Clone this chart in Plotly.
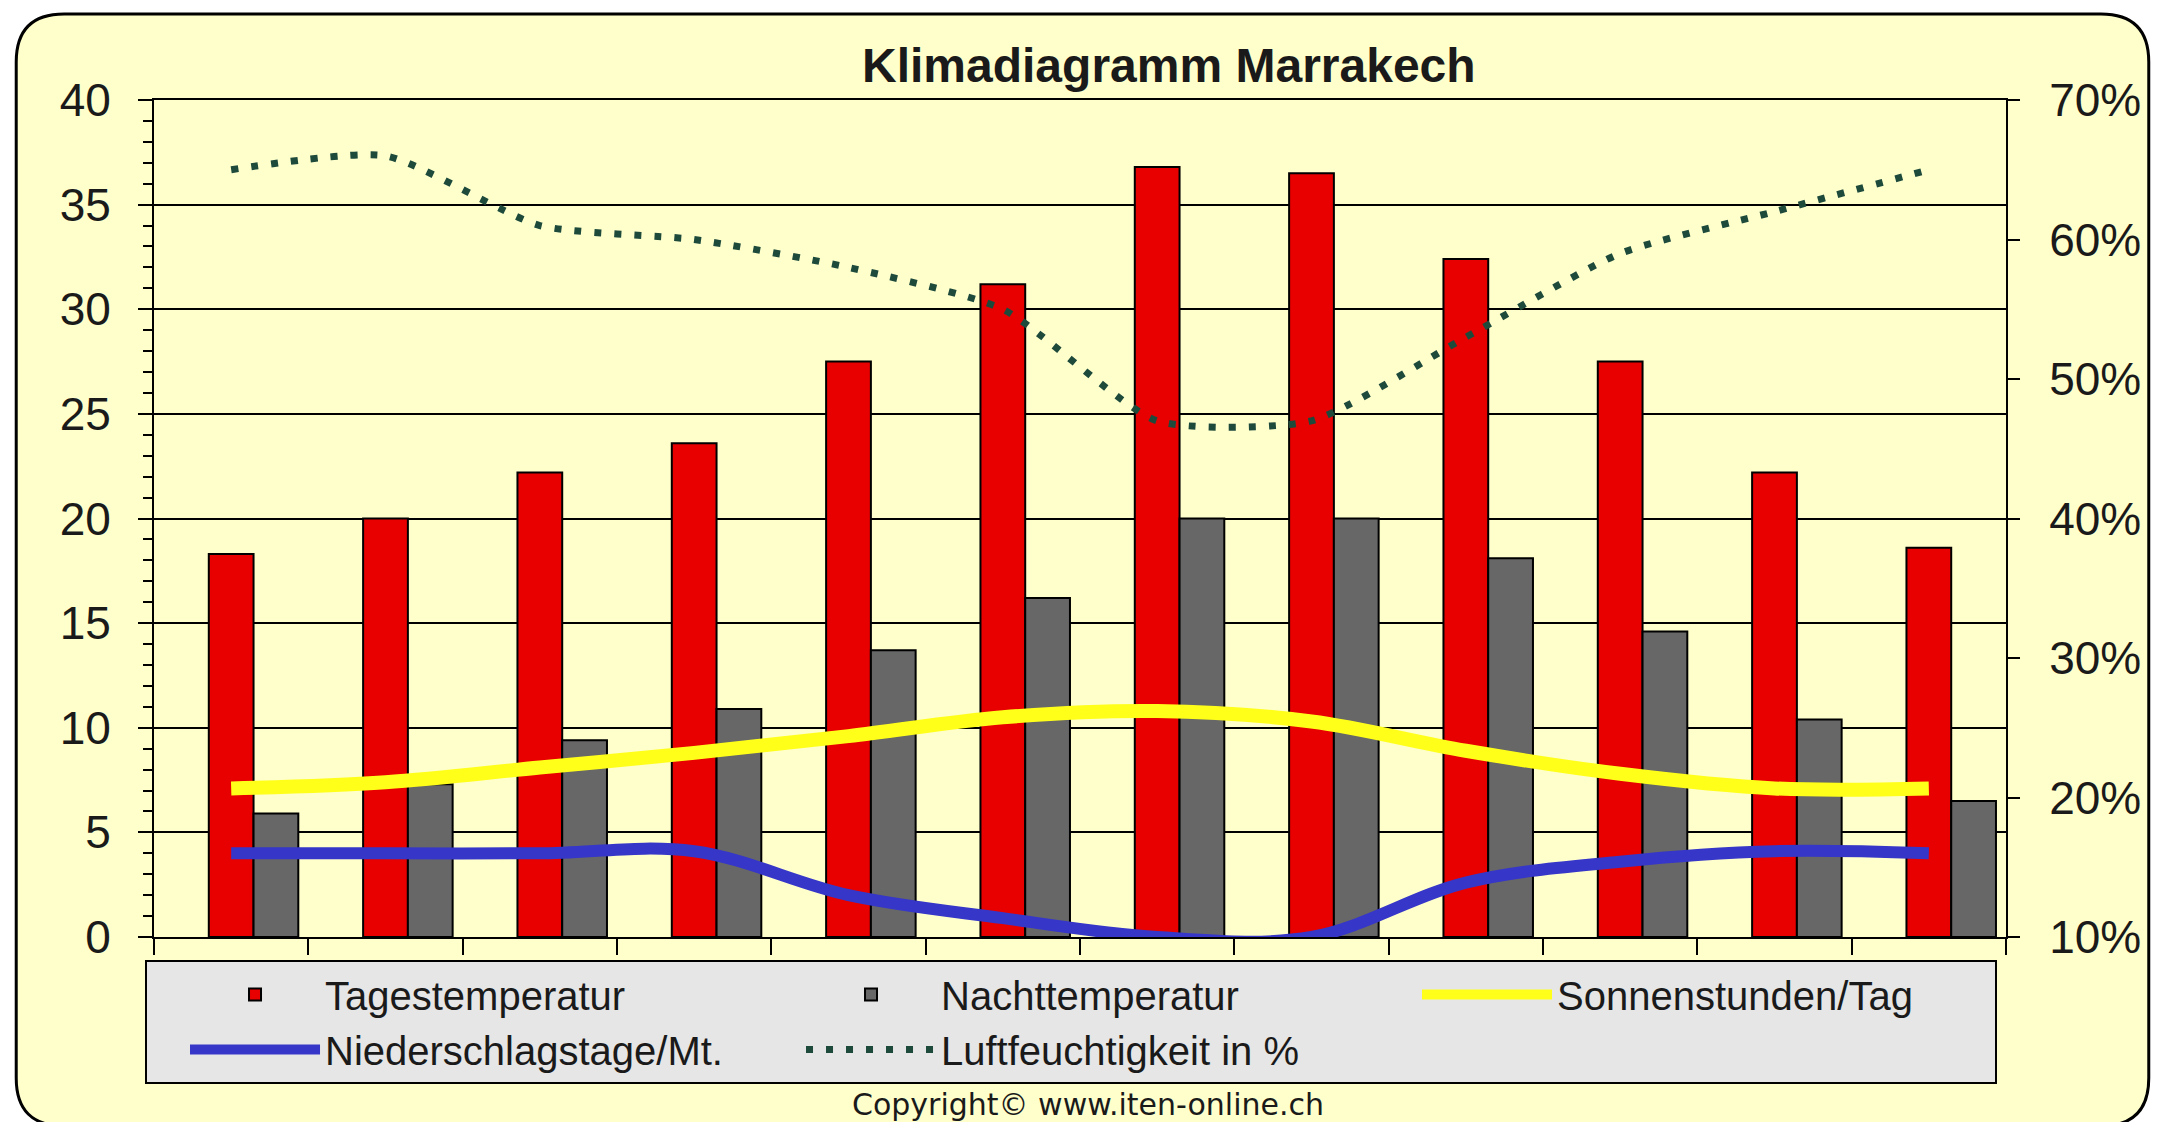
import plotly.graph_objects as go

# Klimadiagramm Marrakech
monate = ["Jan", "Feb", "Mär", "Apr", "Mai", "Jun", "Jul", "Aug", "Sep", "Okt", "Nov", "Dez"]
tagestemperatur = [18.3, 20.0, 22.2, 23.6, 27.5, 31.2, 36.8, 36.5, 32.4, 27.5, 22.2, 18.6]
nachttemperatur = [5.9, 7.3, 9.4, 10.9, 13.7, 16.2, 20.0, 20.0, 18.1, 14.6, 10.4, 6.5]
sonnenstunden = [7.1, 7.4, 8.1, 8.8, 9.6, 10.5, 10.8, 10.3, 8.9, 7.8, 7.1, 7.1]
niederschlagstage = [4.0, 4.0, 4.0, 4.1, 2.0, 0.9, 0.0, 0.0, 2.6, 3.6, 4.1, 4.0]
luftfeuchtigkeit = [65, 66, 61, 60, 58, 55, 47, 47, 53, 59, 62, 65]

# page has an 8px body margin, so the figure is a bit smaller than the window
OFF = 8
W, H = 2161 - 2 * OFF, 1130 - 2 * OFF
# plot rectangle in page pixels
PL, PR, PT, PB = 154, 2009, 100, 937
L, T = PL - OFF, PT - OFF
R, B = W - (PR - OFF), H - (PB - OFF)


def px_x(x):
    return (x - PL) / (PR - PL)


def px_y(y):
    return (PB - y) / (PB - PT)


def rounded_box(x0, y0, x1, y1, r):
    pts = [
        f"M {px_x(x0 + r)},{px_y(y0)}",
        f"L {px_x(x1 - r)},{px_y(y0)}",
        f"Q {px_x(x1)},{px_y(y0)} {px_x(x1)},{px_y(y0 + r)}",
        f"L {px_x(x1)},{px_y(y1 - r)}",
        f"Q {px_x(x1)},{px_y(y1)} {px_x(x1 - r)},{px_y(y1)}",
        f"L {px_x(x0 + r)},{px_y(y1)}",
        f"Q {px_x(x0)},{px_y(y1)} {px_x(x0)},{px_y(y1 - r)}",
        f"L {px_x(x0)},{px_y(y0 + r)}",
        f"Q {px_x(x0)},{px_y(y0)} {px_x(x0 + r)},{px_y(y0)}",
        "Z",
    ]
    return " ".join(pts)


fig = go.Figure()

fig.add_trace(go.Bar(
    x=monate, y=tagestemperatur, name="Tagestemperatur",
    width=0.29, offset=-0.145,
    marker=dict(color="#E80000", line=dict(color="black", width=2)),
))
fig.add_trace(go.Bar(
    x=monate, y=nachttemperatur, name="Nachttemperatur",
    width=0.29, offset=0.145,
    marker=dict(color="#676767", line=dict(color="black", width=2)),
))
fig.add_trace(go.Scatter(
    x=monate, y=sonnenstunden, name="Sonnenstunden/Tag", mode="lines",
    line=dict(color="#FFFF1A", width=14, shape="spline", smoothing=1.0),
))
fig.add_trace(go.Scatter(
    x=monate, y=niederschlagstage, name="Niederschlagstage/Mt.", mode="lines",
    line=dict(color="#3636C8", width=12, shape="spline", smoothing=1.0),
))
fig.add_trace(go.Scatter(
    x=monate, y=luftfeuchtigkeit, name="Luftfeuchtigkeit in %", mode="lines", yaxis="y2",
    line=dict(color="#1E4A3C", width=7, dash="7px,13px", shape="spline", smoothing=0.6),
))

tick_font = dict(family="Liberation Sans, Arial", size=46, color="#1a1a1a")

fig.update_layout(
    width=W, height=H,
    margin=dict(l=L, r=R, t=T, b=B),
    paper_bgcolor="white",
    plot_bgcolor="#C0C0C0",
    barmode="overlay",
    showlegend=True,
    xaxis=dict(
        type="category", showticklabels=False, showgrid=False,
        ticks="outside", tickson="boundaries", ticklen=16, tickwidth=2, tickcolor="black",
        showline=True, linecolor="black", linewidth=2, mirror=True,
        range=[-0.5, 11.5],
    ),
    yaxis=dict(
        range=[0, 40], dtick=5, tickfont=tick_font, ticklabelstandoff=18,
        showgrid=True, gridcolor="black", gridwidth=2, zeroline=False,
        ticks="outside", ticklen=14, tickwidth=2, tickcolor="black",
        minor=dict(dtick=1, ticks="outside", ticklen=9, tickwidth=2, tickcolor="black", showgrid=False),
        showline=True, linecolor="black", linewidth=2,
    ),
    yaxis2=dict(
        range=[10, 70], dtick=10, ticksuffix="%", tickfont=tick_font, ticklabelstandoff=20,
        overlaying="y", side="right", showgrid=False, zeroline=False,
        ticks="outside", ticklen=12, tickwidth=2, tickcolor="black",
        showline=True, linecolor="black", linewidth=2,
    ),
    legend=dict(
        orientation="h", x=px_x(145), y=px_y(960), xanchor="left", yanchor="top",
        bgcolor="#E6E6E6", bordercolor="black", borderwidth=2,
        font=dict(family="Liberation Sans, Arial", size=40, color="#1a1a1a"),
        itemwidth=130, entrywidth=433, entrywidthmode="pixels", indentation=38,
        traceorder="normal",
    ),
    shapes=[dict(
        type="path", xref="paper", yref="paper", layer="below",
        path=rounded_box(16, 14, 2152, 1126, 48),
        fillcolor="#FFFFCC", line=dict(color="black", width=3),
    )],
    annotations=[
        dict(
            text="<b>Klimadiagramm Marrakech</b>", xref="paper", yref="paper",
            x=px_x(1171), y=px_y(66), xanchor="center", yanchor="middle", showarrow=False,
            font=dict(family="Liberation Sans, Arial", size=48, color="#1a1a1a"),
        ),
        dict(
            text="Copyright© www.iten-online.ch", xref="paper", yref="paper",
            x=px_x(1090), y=px_y(1104), xanchor="center", yanchor="middle", showarrow=False,
            font=dict(family="DejaVu Sans, Liberation Sans", size=30, color="#1a1a1a"),
        ),
    ],
)

fig.write_html("out.html")
